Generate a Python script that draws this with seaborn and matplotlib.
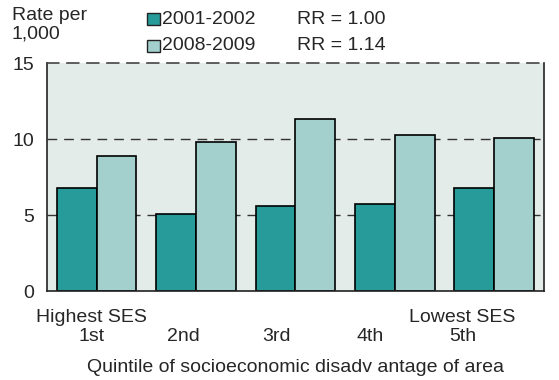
import matplotlib
matplotlib.use("Agg")
import matplotlib.pyplot as plt
import seaborn as sns
import pandas as pd

quintiles = ["1st", "2nd", "3rd", "4th", "5th"]
ses_notes = ["Highest SES", "", "", "", "Lowest SES"]
periods = ["2001-2002", "2008-2009"]
rate_2001 = [6.8, 5.1, 5.6, 5.7, 6.8]
rate_2008 = [8.9, 9.8, 11.3, 10.3, 10.1]
rr_labels = ["RR = 1.00", "RR = 1.14"]
y_ticks = [0, 5, 10, 15]

df = pd.DataFrame({
    "quintile": quintiles * 2,
    "period": [periods[0]] * 5 + [periods[1]] * 5,
    "rate": rate_2001 + rate_2008,
})

sns.set_theme(style="white")
plt.rcParams["font.family"] = ["Liberation Sans", "DejaVu Sans"]
FS = 14

fig = plt.figure(figsize=(5.59, 3.80), dpi=100)
ax = fig.add_axes([0.084, 0.234, 0.889, 0.600])
ax.set_facecolor("#e4ecea")

colors = ["#279a9a", "#a3cfcd"]
sns.barplot(data=df, x="quintile", y="rate", hue="period", order=quintiles,
            hue_order=periods, palette=colors, saturation=1,
            edgecolor="black", linewidth=1.2, width=0.8, ax=ax, legend=False)

ax.set_xlim(-0.5, 4.5)
ax.set_ylim(0, 15)
ax.set_yticks(y_ticks)
ax.set_yticklabels([str(t) for t in y_ticks], fontsize=FS)
ax.tick_params(axis="y", length=0, pad=9)

# category labels sit slightly left of the bar groups
tick_text = [f"{n}\n{q}" for n, q in zip(ses_notes, quintiles)]
ax.set_xticks([-0.05, 0.87, 1.81, 2.75, 3.68])
ax.set_xticklabels(tick_text, fontsize=FS, linespacing=1.15)
ax.tick_params(axis="x", length=0, pad=13)
ax.set_xlabel("Quintile of socioeconomic disadv antage of area", fontsize=FS)
ax.xaxis.set_label_coords(0.50, -0.335)
ax.xaxis.label.set_va("center")
ax.set_ylabel("")

for y in [5, 10]:
    ax.axhline(y, color="#333333", lw=1.0, ls=(0, (7, 5)), zorder=0.5)
ax.set_axisbelow(True)

for side in ["left", "right", "bottom"]:
    ax.spines[side].set_color("#222222")
    ax.spines[side].set_linewidth(1.2)
ax.spines["top"].set_color("#444444")
ax.spines["top"].set_linewidth(1.2)
ax.spines["top"].set_linestyle((0, (7, 5)))

W, H = 559, 380
fig.text(12 / W, 1 - 16 / H, "Rate per", fontsize=FS, va="center", ha="left")
fig.text(12 / W, 1 - 34 / H, "1,000", fontsize=FS, va="center", ha="left")

# legend keys with their period labels, and the rate ratios beside them
for i, (period, col, rr) in enumerate(zip(periods, colors, rr_labels)):
    yc = 19 + 27 * i
    fig.patches.append(plt.Rectangle((147 / W, 1 - (yc + 6) / H), 13 / W, 12 / H,
                                     transform=fig.transFigure, facecolor=col,
                                     edgecolor="#222222", lw=1))
    fig.text(162 / W, 1 - yc / H, period, fontsize=FS, va="center", ha="left")
    fig.text(297 / W, 1 - yc / H, rr, fontsize=FS, va="center", ha="left")

fig.savefig("out.png", dpi=100)
